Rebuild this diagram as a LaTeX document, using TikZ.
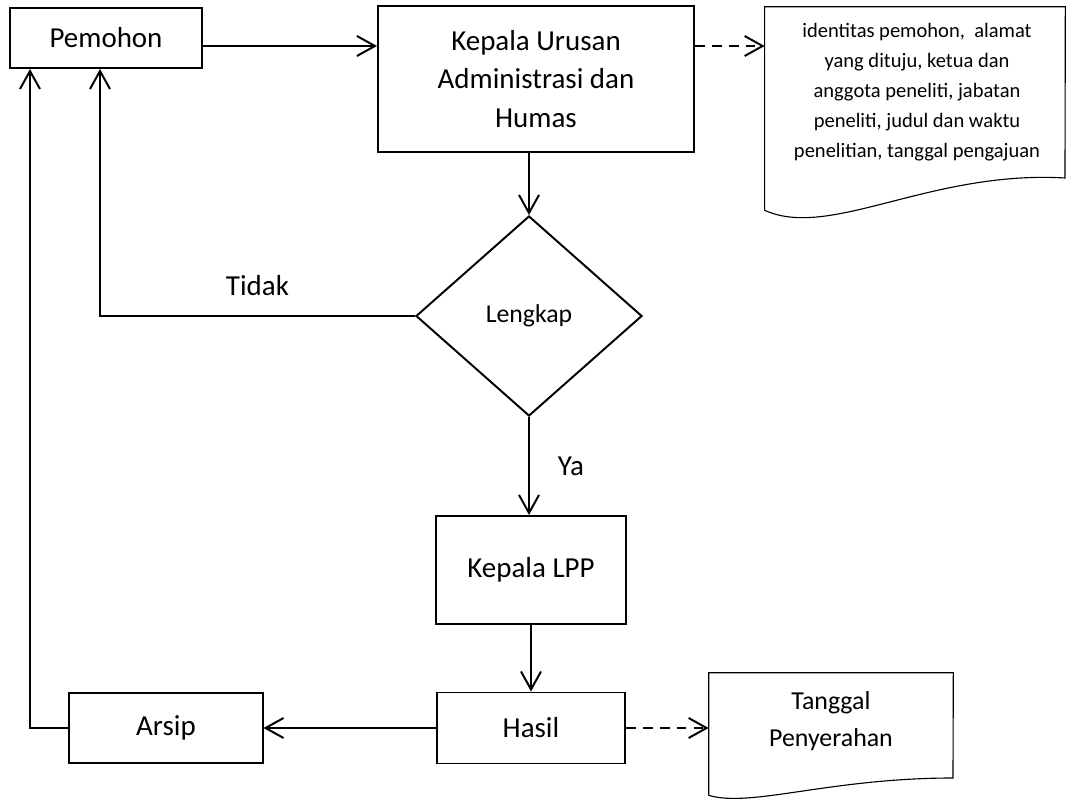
\documentclass[tikz,border=0pt]{standalone}
\usepackage{fontspec}
\setmainfont{Carlito}
\usetikzlibrary{arrows.meta,shapes.geometric}

\begin{document}
\begin{tikzpicture}[x=0.025cm, y=-0.025cm,
    font=\fontsize{20.6}{27.6}\selectfont,
    kotak/.style={draw, line width=1.4pt, inner sep=0pt, align=center},
    cabang/.style={diamond, draw, line width=1.4pt, inner sep=0pt, minimum width=5.65cm, minimum height=5cm, font=\fontsize{18.3}{22}\selectfont},
    dokumen/.style={inner sep=0pt, align=center},
    panah/.style={-{Straight Barb[length=0.45cm,width=0.5cm]}, line width=1.4pt},
    putus/.style={panah, dash pattern=on 7pt off 5pt}]
    \useasboundingbox (0,0) rectangle (1067,800);
    % kotak proses
    \node[kotak, minimum width=4.8cm, minimum height=1.5cm] (pemohon) at (106,38) {Pemohon};
    \node[kotak, minimum width=7.9cm, minimum height=3.65cm] (kua) at (536,79) {Kepala Urusan\\Administrasi dan\\Humas};
    \node[cabang] (cek) at (529,316) {Lengkap};
    \node[kotak, minimum width=4.75cm, minimum height=2.7cm] (lpp) at (531,570) {Kepala LPP};
    \node[kotak, minimum width=4.7cm, minimum height=1.775cm] (hasil) at (531,728) {Hasil};
    \node[kotak, minimum width=4.825cm, minimum height=1.75cm] (arsip) at (166,728) {Arsip};
    % dokumen
    \node[dokumen, minimum width=7.5cm, minimum height=5.075cm] (info) at (915,108.5) {};
    \node[dokumen, font=\fontsize{14.6}{21.3}\selectfont] (infoteks) at (917,92) {identitas pemohon,\ \ alamat\\yang dituju, ketua dan\\anggota peneliti, jabatan\\peneliti, judul dan waktu\\penelitian, tanggal pengajuan};
    \draw[line width=0.8pt] (info.south west) -- (info.north west) -- (info.north east) -- (1065,178) .. controls (930,170) and (830,240) .. (info.south west);
    \node[dokumen, minimum width=6.1cm, minimum height=3.05cm] (tgl) at (831,734) {};
    \node[dokumen, font=\fontsize{18.4}{26.2}\selectfont] (tglteks) at (831,721) {Tanggal\\Penyerahan};
    \draw[line width=0.8pt] (tgl.south west) -- (tgl.north west) -- (tgl.north east) -- (953,778) .. controls (830,778) and (750,808) .. (tgl.south west);
    % alur
    \coordinate (p1) at ([yshift=-0.2cm]pemohon.east);
    \draw[panah] (p1) -- (p1 -| kua.west);
    \draw[putus] (p1 -| kua.east) -- (p1 -| info.west);
    \draw[panah] (kua.south -| cek.north) -- (cek.north);
    \draw[panah] (cek.west) -| node[pos=0.25, above=0.5cm, inner sep=0pt, anchor=base] {Tidak} ([xshift=-0.15cm]pemohon.south);
    \draw[panah] (cek.south) -- node[midway, right=0.7cm, inner sep=0pt] {Ya} (cek.south |- lpp.north);
    \draw[panah] (lpp.south) -- (lpp.south |- hasil.north);
    \draw[panah] (hasil.west) -- (arsip.east);
    \draw[panah] (arsip.west) -| ([xshift=-1.9cm]pemohon.south);
    \draw[putus] (hasil.east) -- (hasil.east -| tgl.west);
\end{tikzpicture}
\end{document}
